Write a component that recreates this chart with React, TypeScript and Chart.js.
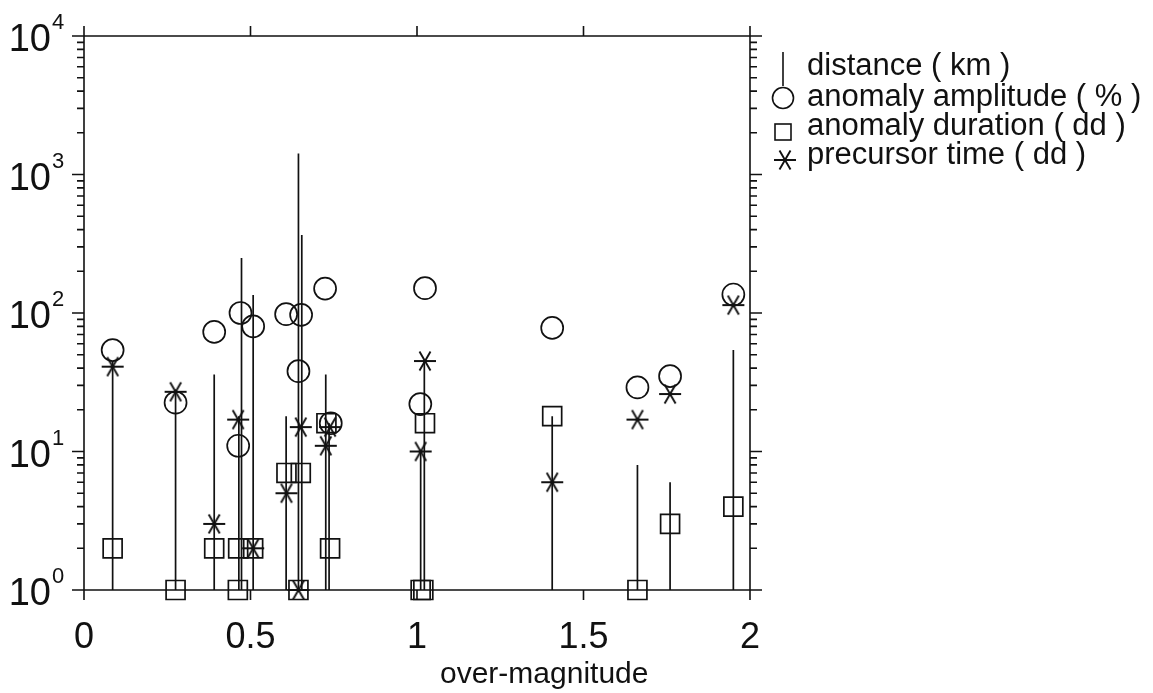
import React, { useEffect, useRef } from 'react';
import { Chart, registerables } from 'chart.js';

Chart.register(...registerables);

// ---- data ----
// distance (km): vertical line from 1 up to value
const distX = [0.086, 0.275, 0.391, 0.465, 0.473, 0.508, 0.607, 0.644, 0.654, 0.726, 0.736, 1.011, 1.022, 1.406, 1.662, 1.76, 1.95];
const distKm = [45, 28, 36, 18, 250, 135, 18, 1420, 366, 36, 16, 10, 45, 18, 8, 6, 54];

// anomaly amplitude (%)
const ampX = [0.086, 0.275, 0.391, 0.463, 0.47, 0.508, 0.607, 0.644, 0.652, 0.724, 0.741, 1.01, 1.024, 1.406, 1.662, 1.76, 1.95];
const ampPct = [54, 22.5, 73, 11, 100, 80, 98, 38, 97, 150, 16, 22, 151, 78, 29, 35, 136];

// anomaly duration (dd)
const durX = [0.086, 0.275, 0.391, 0.463, 0.462, 0.508, 0.608, 0.651, 0.644, 0.728, 0.739, 1.011, 1.019, 1.024, 1.406, 1.662, 1.76, 1.95];
const durDays = [2, 1, 2, 2, 1, 2, 7, 7, 1, 16, 2, 1, 1, 16, 18, 1, 3, 4];

// precursor time (dd)
const preX = [0.086, 0.275, 0.391, 0.463, 0.508, 0.608, 0.651, 0.644, 0.726, 0.739, 1.011, 1.024, 1.406, 1.662, 1.76, 1.95];
const preDays = [41, 27, 3, 17, 2, 5, 15, 1, 11, 15, 10, 45, 6, 17, 26, 114];

const xTickValues = [0, 0.5, 1, 1.5, 2];
const xTickLabels = ['0', '0.5', '1', '1.5', '2'];
const yDecadeExponents = [0, 1, 2, 3, 4];
const yMinorMultipliers = [2, 3, 4, 5, 6, 7, 8, 9];
const xTitle = 'over-magnitude';
const legendLabels = ['distance ( km )', 'anomaly amplitude ( % )', 'anomaly duration ( dd )', 'precursor time ( dd )'];

const INK = '#111111';
const FONT = "'Liberation Sans', Arial, Helvetica, sans-serif";

function drawAsterisk(ctx: CanvasRenderingContext2D, cx: number, cy: number, L: number) {
  ctx.beginPath();
  for (const deg of [0, 60, 120]) {
    const r = (deg * Math.PI) / 180;
    const dx = L * Math.cos(r);
    const dy = L * Math.sin(r);
    ctx.moveTo(cx - dx, cy - dy);
    ctx.lineTo(cx + dx, cy + dy);
  }
  ctx.stroke();
}

function makeAsteriskCanvas(): HTMLCanvasElement {
  const c = document.createElement('canvas');
  c.width = 26;
  c.height = 26;
  const g = c.getContext('2d')!;
  g.strokeStyle = INK;
  g.lineWidth = 1.9;
  drawAsterisk(g, 13, 13, 11);
  return c;
}

const frameAndLabels = {
  id: 'frameAndLabels',
  afterDraw(chart: any) {
    const { ctx, chartArea: a, scales } = chart;
    const xs = scales.x;
    const ys = scales.y;
    ctx.save();
    ctx.strokeStyle = INK;
    ctx.fillStyle = INK;
    ctx.lineWidth = 1.6;

    // frame
    ctx.beginPath();
    ctx.moveTo(a.left, a.top);
    ctx.lineTo(a.left, a.bottom);
    ctx.moveTo(a.right, a.top);
    ctx.lineTo(a.right, a.bottom);
    ctx.moveTo(a.left, a.top);
    ctx.lineTo(a.right, a.top);
    ctx.moveTo(a.left, a.bottom);
    ctx.lineTo(a.right, a.bottom);
    ctx.stroke();

    // x ticks (outward, bottom and top)
    ctx.beginPath();
    for (const v of xTickValues) {
      const px = xs.getPixelForValue(v);
      ctx.moveTo(px, a.bottom);
      ctx.lineTo(px, a.bottom + 10);
      ctx.moveTo(px, a.top);
      ctx.lineTo(px, a.top - 10);
    }
    // y ticks (outward, left and right)
    for (const e of yDecadeExponents) {
      const py = ys.getPixelForValue(Math.pow(10, e));
      ctx.moveTo(a.left, py);
      ctx.lineTo(a.left - 12, py);
      ctx.moveTo(a.right, py);
      ctx.lineTo(a.right + 12, py);
      if (e < yDecadeExponents[yDecadeExponents.length - 1]) {
        for (const m of yMinorMultipliers) {
          const pm = ys.getPixelForValue(m * Math.pow(10, e));
          ctx.moveTo(a.left, pm);
          ctx.lineTo(a.left - 7, pm);
          ctx.moveTo(a.right, pm);
          ctx.lineTo(a.right + 7, pm);
        }
      }
    }
    ctx.stroke();

    // x tick labels
    ctx.font = `36px ${FONT}`;
    ctx.textAlign = 'center';
    ctx.textBaseline = 'alphabetic';
    xTickValues.forEach((v, i) => {
      ctx.fillText(xTickLabels[i], xs.getPixelForValue(v), a.bottom + 58);
    });

    // y tick labels 10^e
    for (const e of yDecadeExponents) {
      const py = ys.getPixelForValue(Math.pow(10, e));
      ctx.font = `38px ${FONT}`;
      ctx.textAlign = 'right';
      ctx.fillText('10', 51, py + 15);
      ctx.font = `22px ${FONT}`;
      ctx.textAlign = 'left';
      ctx.fillText(String(e), 52, py - 7);
    }

    // x axis title
    ctx.font = `30px ${FONT}`;
    ctx.textAlign = 'left';
    ctx.fillText(xTitle, 440, a.bottom + 93);

    // legend
    const gx = 783;
    const tx = 807;
    const baselines = [75, 106, 135, 164];
    ctx.font = `31px ${FONT}`;
    ctx.textAlign = 'left';
    legendLabels.forEach((t, i) => ctx.fillText(t, tx, baselines[i]));
    ctx.lineWidth = 1.6;
    ctx.beginPath();
    ctx.moveTo(gx, 52);
    ctx.lineTo(gx, 86);
    ctx.stroke();
    ctx.beginPath();
    ctx.arc(gx, 98, 10.5, 0, Math.PI * 2);
    ctx.stroke();
    ctx.strokeRect(gx - 8, 124, 16, 16);
    ctx.lineWidth = 1.9;
    drawAsterisk(ctx, gx + 2, 160, 11);

    ctx.restore();
  },
};

export default function App() {
  const ref = useRef<HTMLCanvasElement | null>(null);

  useEffect(() => {
    if (!ref.current) return;
    const lineData: { x: number; y: number }[] = [];
    distX.forEach((x, i) => {
      lineData.push({ x, y: 1 });
      lineData.push({ x, y: distKm[i] });
      lineData.push({ x: NaN, y: NaN });
    });
    const asterisk = makeAsteriskCanvas();

    const chart = new Chart(ref.current, {
      type: 'scatter',
      data: {
        datasets: [
          {
            label: legendLabels[3],
            data: preX.map((x, i) => ({ x, y: preDays[i] })),
            pointStyle: asterisk as any,
            pointRadius: 11,
            clip: false as any,
          },
          {
            label: legendLabels[2],
            data: durX.map((x, i) => ({ x, y: durDays[i] })),
            pointStyle: 'rect',
            pointRadius: 13.4,
            borderColor: INK,
            backgroundColor: 'rgba(0,0,0,0)',
            borderWidth: 1.7,
            clip: false as any,
          },
          {
            label: legendLabels[1],
            data: ampX.map((x, i) => ({ x, y: ampPct[i] })),
            pointStyle: 'circle',
            pointRadius: 11,
            borderColor: INK,
            backgroundColor: 'rgba(0,0,0,0)',
            borderWidth: 1.7,
            clip: false as any,
          },
          {
            label: legendLabels[0],
            data: lineData,
            showLine: true,
            spanGaps: false,
            pointRadius: 0,
            borderColor: INK,
            borderWidth: 1.7,
            clip: false as any,
          },
        ],
      },
      options: {
        responsive: false,
        animation: false,
        events: [],
        devicePixelRatio: 1,
        layout: { padding: { left: 84, top: 36, right: 403, bottom: 103 } },
        plugins: { legend: { display: false }, tooltip: { enabled: false }, title: { display: false } },
        scales: {
          x: { type: 'linear', min: 0, max: 2, display: false },
          y: { type: 'logarithmic', min: 1, max: 10000, display: false },
        },
      },
      plugins: [frameAndLabels],
    });
    return () => chart.destroy();
  }, []);

  return (
    <div style={{ position: 'absolute', left: 0, top: 0, width: 1153, height: 693, background: '#fff' }}>
      <canvas ref={ref} width={1153} height={693} style={{ display: 'block' }} />
    </div>
  );
}
